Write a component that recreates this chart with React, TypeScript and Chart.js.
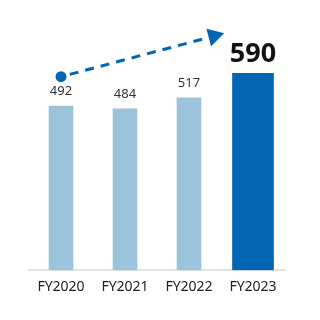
import React, { useEffect, useRef } from "react";
import { Chart, registerables } from "chart.js";

Chart.register(...registerables);

const categories = ["FY2020", "FY2021", "FY2022", "FY2023"];
const pastValues = [492, 484, 517, null];
const latestValues = [null, null, null, 590];
const trendStart = { x: 0, y: 580 };
const trendEnd = { x: 2.55, y: 710 };

const LIGHT = "#9bc4dc";
const DARK = "#0065b3";

const labelPlugin = {
  id: "valueLabels",
  afterDatasetsDraw(chart: any) {
    const ctx = chart.ctx;
    ctx.save();
    chart.data.datasets.forEach((ds: any, di: number) => {
      const meta = chart.getDatasetMeta(di);
      meta.data.forEach((bar: any, i: number) => {
        const v = ds.data[i];
        if (v == null) return;
        ctx.textAlign = "center";
        ctx.textBaseline = "alphabetic";
        if (di === 1) {
          ctx.font = "bold 27px 'Noto Sans'";
          ctx.fillStyle = "#111";
        } else {
          ctx.font = "13px 'Noto Sans'";
          ctx.fillStyle = "#333";
        }
        ctx.fillText(String(v), bar.x, bar.y - 11);
      });
    });
    ctx.restore();
  },
};

const trendPlugin = {
  id: "trendArrow",
  afterDatasetsDraw(chart: any) {
    const ctx = chart.ctx;
    const xs = chart.scales.x;
    const ys = chart.scales.y;
    const x0 = xs.getPixelForValue(trendStart.x);
    const y0 = ys.getPixelForValue(trendStart.y);
    const x1 = xs.getPixelForValue(trendEnd.x);
    const y1 = ys.getPixelForValue(trendEnd.y);
    const ang = Math.atan2(y1 - y0, x1 - x0);
    const headLen = 16;
    const headHalf = 9;
    const bx = x1 - headLen * Math.cos(ang);
    const by = y1 - headLen * Math.sin(ang);
    ctx.save();
    ctx.fillStyle = DARK;
    ctx.strokeStyle = DARK;
    ctx.beginPath();
    ctx.arc(x0, y0, 5.5, 0, Math.PI * 2);
    ctx.fill();
    const sx = x0 + 9 * Math.cos(ang);
    const sy = y0 + 9 * Math.sin(ang);
    ctx.lineWidth = 3;
    ctx.setLineDash([9, 7]);
    ctx.beginPath();
    ctx.moveTo(sx, sy);
    ctx.lineTo(bx - 4 * Math.cos(ang), by - 4 * Math.sin(ang));
    ctx.stroke();
    ctx.setLineDash([]);
    ctx.beginPath();
    ctx.moveTo(x1, y1);
    ctx.lineTo(bx + headHalf * Math.sin(ang), by - headHalf * Math.cos(ang));
    ctx.lineTo(bx - headHalf * Math.sin(ang), by + headHalf * Math.cos(ang));
    ctx.closePath();
    ctx.fill();
    ctx.restore();
  },
};

export default function App() {
  const ref = useRef<HTMLCanvasElement>(null);
  useEffect(() => {
    if (!ref.current) return;
    const chart = new Chart(ref.current, {
      type: "bar",
      data: {
        labels: categories,
        datasets: [
          {
            data: pastValues as any,
            backgroundColor: LIGHT,
            barThickness: 24,
            grouped: false,
          } as any,
          {
            data: latestValues as any,
            backgroundColor: DARK,
            barThickness: 41,
            grouped: false,
          } as any,
        ],
      },
      options: {
        animation: false,
        responsive: false,
        maintainAspectRatio: false,
        layout: { padding: { top: 20, left: 29, right: 35, bottom: 25 } },
        plugins: { legend: { display: false }, tooltip: { enabled: false } },
        scales: {
          y: { display: false, min: 0, max: 750 },
          x: {
            grid: { display: false },
            border: { display: true, color: "#e2e2e2", width: 2 },
            ticks: {
              color: "#222",
              padding: 0,
              font: { family: "'Noto Sans'", size: 14 },
            },
          },
        },
      },
      plugins: [labelPlugin, trendPlugin],
    });
    return () => chart.destroy();
  }, []);
  return (
    <div style={{ position: "fixed", left: 0, top: 0, width: 320, height: 320, background: "#fff" }}>
      <canvas ref={ref} width={320} height={320} style={{ width: 320, height: 320 }} />
    </div>
  );
}
